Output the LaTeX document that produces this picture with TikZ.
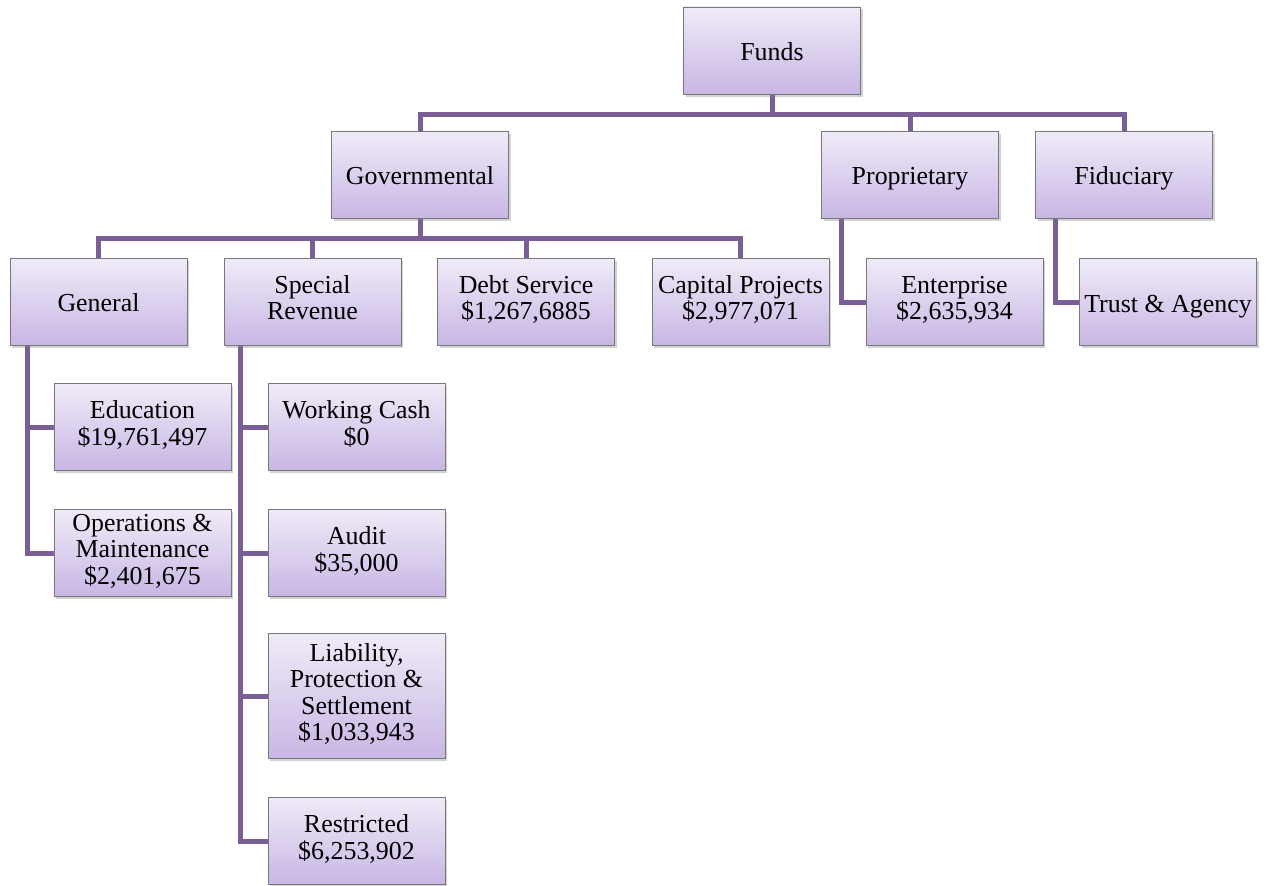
\documentclass[tikz,border=0pt]{standalone}
\usepackage{fontspec}
\setmainfont{Liberation Serif}
\usetikzlibrary{shadows}
\pgfdeclarelayer{paper}
\pgfdeclarelayer{links}
\pgfsetlayers{paper,links,main}
\definecolor{conn}{RGB}{122,94,150}
\definecolor{boxtop}{RGB}{240,235,248}
\definecolor{boxbot}{RGB}{200,182,228}
\definecolor{boxedge}{RGB}{120,120,120}
\tikzset{
  box/.style={rectangle, draw=boxedge, line width=0.8bp, top color=boxtop, bottom color=boxbot,
    minimum width=177bp, minimum height=87bp, inner sep=2bp, align=center,
    font=\fontsize{26}{26.5}\selectfont,
    execute at begin node={\rule{0pt}{28.5bp}}, execute at end node=\strut,
    drop shadow={opacity=0.35, shadow xshift=2bp, shadow yshift=-2.5bp}},
  link/.style={draw=conn, line width=5bp}
}
\begin{document}
\begin{tikzpicture}[x=1bp,y=-1bp]
\begin{pgfonlayer}{paper}
\fill[white] (0,0) rectangle (1270,886);
\end{pgfonlayer}
\useasboundingbox (0,0) rectangle (1270,886);
% nodes
\node[box] (funds) at (772,50.5) {Funds};
\node[box] (gov) at (420,174.5) {Governmental};
\node[box] (prop) at (910,174.5) {Proprietary};
\node[box] (fid) at (1124,174.5) {Fiduciary};
\node[box] (gen) at (98.5,301.5) {General};
\node[box] (spec) at (312.5,301.5) {Special\\Revenue};
\node[box] (debt) at (526,301.5) {Debt Service\\\$1,267,6885};
\node[box] (cap) at (740.5,301.5) {Capital Projects\\\$2,977,071};
\node[box] (ent) at (954.5,302) {Enterprise\\\$2,635,934};
\node[box] (trust) at (1168,302) {Trust \& Agency};
\node[box] (edu) at (142.5,427) {Education\\\$19,761,497};
\node[box] (ops) at (142.5,553) {Operations \&\\Maintenance\\\$2,401,675};
\node[box] (wc) at (356.5,427) {Working Cash\\\$0};
\node[box] (audit) at (356.5,553) {Audit\\\$35,000};
\node[box, minimum height=125bp] (liab) at (356.5,696) {Liability,\\Protection \&\\Settlement\\\$1,033,943};
\node[box] (restr) at (356.5,841) {Restricted\\\$6,253,902};
% connectors
\coordinate (b1) at (772,114);
\coordinate (b2) at (420,238);
\begin{pgfonlayer}{links}
\draw[link] (funds.south) -- (b1) -| (gov.north);
\draw[link] (b1) -| (prop.north);
\draw[link] (b1) -| (fid.north);
\draw[link] (gov.south) -- (b2) -| (gen.north);
\draw[link] (b2) -| (spec.north);
\draw[link] (b2) -| (debt.north);
\draw[link] (b2) -| (cap.north);
\draw[link] ([xshift=20bp]prop.south west) |- (ent.west);
\draw[link] ([xshift=20bp]fid.south west) |- (trust.west);
\draw[link] ([xshift=18bp]gen.south west) |- (edu.west);
\draw[link] ([xshift=18bp]gen.south west) |- (ops.west);
\draw[link] ([xshift=17bp]spec.south west) |- (wc.west);
\draw[link] ([xshift=17bp]spec.south west) |- (audit.west);
\draw[link] ([xshift=17bp]spec.south west) |- (liab.west);
\draw[link] ([xshift=17bp]spec.south west) |- (restr.west);
\end{pgfonlayer}
\end{tikzpicture}
\end{document}
